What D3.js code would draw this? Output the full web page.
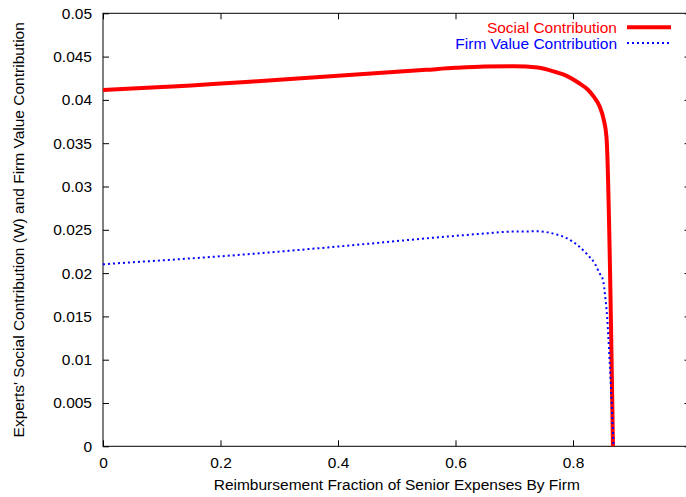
<!DOCTYPE html>
<html>
<head>
<meta charset="utf-8">
<script src="https://cdn.jsdelivr.net/npm/d3@7"></script>
<style>
  body { margin: 0; background: #fff; }
  svg { display: block; font-family: "Liberation Sans", Arial, Helvetica, sans-serif; }
</style>
</head>
<body>
<div id="chart"></div>
<script>
// Data
const socialX = [0, 0.05, 0.1, 0.15, 0.2, 0.25, 0.3, 0.35, 0.4, 0.45, 0.5, 0.55, 0.6, 0.65, 0.7, 0.74, 0.77, 0.79, 0.81, 0.825, 0.835, 0.845, 0.852, 0.857, 0.868];
const socialY = [0.04114, 0.04131, 0.04149, 0.04167, 0.04188, 0.04210, 0.04233, 0.04256, 0.04279, 0.04301, 0.04324, 0.04347, 0.04370, 0.04386, 0.04390, 0.04374, 0.04322, 0.04275, 0.04195, 0.04120, 0.04040, 0.03930, 0.03780, 0.03570, 0.0];

const firmX = [0, 0.05, 0.1, 0.15, 0.2, 0.25, 0.3, 0.35, 0.4, 0.45, 0.5, 0.55, 0.6, 0.65, 0.7, 0.74, 0.77, 0.79, 0.81, 0.825, 0.838, 0.845, 0.851, 0.855, 0.858, 0.86, 0.869];
const firmY = [0.02102, 0.02125, 0.02147, 0.02170, 0.02194, 0.02220, 0.02248, 0.02277, 0.02307, 0.02338, 0.02370, 0.02401, 0.02430, 0.02458, 0.02480, 0.02482, 0.02450, 0.02400, 0.02310, 0.02210, 0.02100, 0.02000, 0.01920, 0.01720, 0.01500, 0.01280, 0.0];

const xTicks = [0, 0.2, 0.4, 0.6, 0.8, 1];
const yTicks = [0, 0.005, 0.01, 0.015, 0.02, 0.025, 0.03, 0.035, 0.04, 0.045, 0.05];
const seriesNames = ["Social Contribution", "Firm Value Contribution"];

// Dimensions
const width = 686, height = 497;
const margin = {top: 13.3, left: 103, right: -4.5, bottom: 50.7};
const innerW = width - margin.left - margin.right;
const innerH = height - margin.top - margin.bottom;

const svg = d3.select("#chart")
  .append("svg")
  .attr("width", width)
  .attr("height", height);

const g = svg.append("g")
  .attr("transform", `translate(${margin.left},${margin.top})`);

// Scales
const x = d3.scaleLinear().domain([0, 1]).range([0, innerW]);
const y = d3.scaleLinear().domain([0, 0.05]).range([innerH, 0]);

const fmt = d => String(+d.toFixed(3));
// the plot runs past the right edge of the picture, so its last label is not shown
const xFmt = d => d >= 1 ? "" : fmt(d);

// Axes (gnuplot style: inward ticks, mirrored)
g.append("g")
  .attr("transform", `translate(0,${innerH})`)
  .call(d3.axisBottom(x).tickValues(xTicks).tickFormat(xFmt).tickSizeInner(-6).tickSizeOuter(0).tickPadding(11));

g.append("g")
  .call(d3.axisLeft(y).tickValues(yTicks).tickFormat(fmt).tickSizeInner(-6).tickSizeOuter(0).tickPadding(11));

g.append("g")
  .call(d3.axisTop(x).tickValues(xTicks).tickFormat("").tickSizeInner(-6).tickSizeOuter(0));

g.append("g")
  .attr("transform", `translate(${innerW},0)`)
  .call(d3.axisRight(y).tickValues(yTicks).tickFormat("").tickSizeInner(-6).tickSizeOuter(0));

g.selectAll(".domain").remove();
g.selectAll(".tick line").attr("stroke", "#000");
g.selectAll(".tick text")
  .attr("fill", "#000")
  .style("font-size", "15.5px")
  .style("font-family", "'Liberation Sans', Arial, Helvetica, sans-serif");

// Frame
g.append("rect")
  .attr("width", innerW)
  .attr("height", innerH)
  .attr("fill", "none")
  .attr("stroke", "#000")
  .attr("stroke-width", 1);

// Lines
const socialData = socialX.map((v, i) => ({x: v, y: socialY[i]}));
const firmData = firmX.map((v, i) => ({x: v, y: firmY[i]}));

const lineGen = d3.line()
  .x(d => x(d.x))
  .y(d => y(d.y))
  .curve(d3.curveMonotoneX);

g.append("path")
  .datum(socialData)
  .attr("fill", "none")
  .attr("stroke", "#ff0000")
  .attr("stroke-width", 4)
  .attr("d", lineGen);

g.append("path")
  .datum(firmData)
  .attr("fill", "none")
  .attr("stroke", "#0000ff")
  .attr("stroke-width", 2)
  .attr("stroke-dasharray", "2,3")
  .attr("d", lineGen);

// Legend
const legend = svg.append("g");
const legendRows = [
  {name: seriesNames[0], color: "#ff0000", w: 4, dash: null, ty: 32.5, ly: 27.3},
  {name: seriesNames[1], color: "#0000ff", w: 2, dash: "2,3", ty: 48.7, ly: 43}
];
legendRows.forEach(r => {
  legend.append("text")
    .attr("x", 617)
    .attr("y", r.ty)
    .attr("text-anchor", "end")
    .attr("fill", r.color)
    .style("font-size", "15.5px")
    .text(r.name);
  legend.append("line")
    .attr("x1", 627).attr("x2", 671)
    .attr("y1", r.ly).attr("y2", r.ly)
    .attr("stroke", r.color)
    .attr("stroke-width", r.w)
    .attr("stroke-dasharray", r.dash);
});

// Axis labels
svg.append("text")
  .attr("x", margin.left + innerW / 2)
  .attr("y", 490)
  .attr("text-anchor", "middle")
  .style("font-size", "15.5px")
  .text("Reimbursement Fraction of Senior Expenses By Firm");

svg.append("text")
  .attr("transform", `translate(24,${margin.top + innerH / 2}) rotate(-90)`)
  .attr("text-anchor", "middle")
  .style("font-size", "15.5px")
  .text("Experts' Social Contribution (W) and Firm Value Contribution");
</script>
</body>
</html>
